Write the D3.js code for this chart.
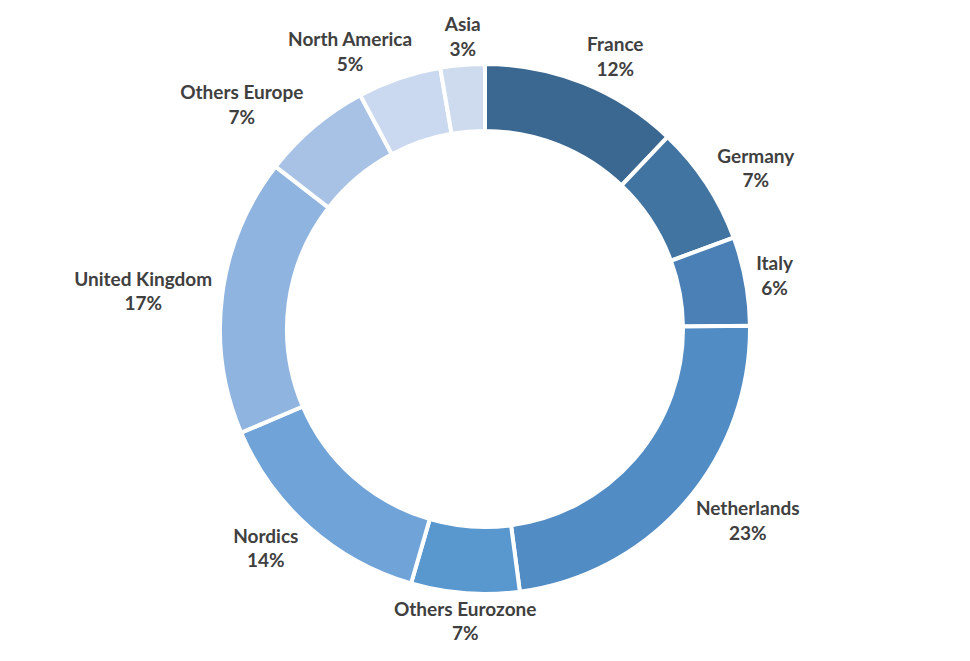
<!DOCTYPE html>
<html>
<head>
<meta charset="utf-8">
<script src="https://cdn.jsdelivr.net/npm/d3@7"></script>
<style>
  html, body { margin: 0; padding: 0; background: #fff; }
  #chart { width: 970px; height: 661px; }
</style>
</head>
<body>
<div id="chart"></div>
<script>
// DATA (share of total, %)
const regions = [
  "France", "Germany", "Italy", "Netherlands", "Others Eurozone",
  "Nordics", "United Kingdom", "Others Europe", "North America", "Asia"
];
const shares = [12.1, 7.3, 5.4, 23.1, 6.6, 14.1, 16.9, 6.7, 5.1, 2.7];
const shareLabels = ["12%", "7%", "6%", "23%", "7%", "14%", "17%", "7%", "5%", "3%"];
const sliceColors = [
  "#3b6890", "#4274a2", "#4a80b6", "#518cc4", "#5997cf",
  "#70a3d8", "#8fb4df", "#a8c2e6", "#cad9ef", "#cedbef"
];

const WIDTH = 970;
const HEIGHT = 661;
const CX = 485;
const CY = 329;
const OUTER_R = 265;
const INNER_R = 198;
const FONT = "Lato, 'Open Sans', sans-serif";
const FONT_SIZE = 19;
const LINE_H = 24.5;

const data = regions.map((name, i) => ({
  name,
  value: shares[i],
  label: shareLabels[i],
  color: sliceColors[i],
}));

const svg = d3
  .select("#chart")
  .append("svg")
  .attr("width", WIDTH)
  .attr("height", HEIGHT);

const g = svg.append("g").attr("transform", `translate(${CX}, ${CY})`);

const pie = d3.pie().sort(null).value((d) => d.value);
const arc = d3.arc().innerRadius(INNER_R).outerRadius(OUTER_R);

const arcs = pie(data);

g.selectAll("path.slice")
  .data(arcs)
  .join("path")
  .attr("class", "slice")
  .attr("d", arc)
  .attr("fill", (d) => d.data.color)
  .attr("stroke", "#fff")
  .attr("stroke-width", 4)
  .attr("stroke-linejoin", "miter");

// LABELS (outside the ring)
const visR = OUTER_R - 2;

const labels = g
  .selectAll("text.label")
  .data(arcs)
  .join("text")
  .attr("class", "label")
  .attr("text-anchor", "middle")
  .style("font-family", FONT)
  .style("font-weight", "bold")
  .style("font-size", FONT_SIZE + "px")
  .style("fill", "#404040");

labels
  .append("tspan")
  .attr("x", 0)
  .attr("dy", 0)
  .text((d) => d.data.name);

labels
  .append("tspan")
  .attr("x", 0)
  .attr("dy", LINE_H)
  .text((d) => d.data.label);

labels.each(function (d) {
  const el = d3.select(this);
  const w = this.getBBox().width;
  const a = (d.startAngle + d.endAngle) / 2;
  const s = Math.sin(a);
  const c = Math.cos(a);

  // push sideways by half the label width, less so near top/bottom
  const push = Math.max(0, Math.min(1, (Math.abs(s) - 0.1) * 3));
  const x = visR * s + Math.sign(s) * (w / 2 + 12) * push;
  const y = -(visR + 30) * c;

  // centre the two-line block vertically on y
  const top = y - LINE_H / 2 + FONT_SIZE * 0.35;
  el.attr("transform", `translate(${x}, ${top})`);
});
</script>
</body>
</html>
